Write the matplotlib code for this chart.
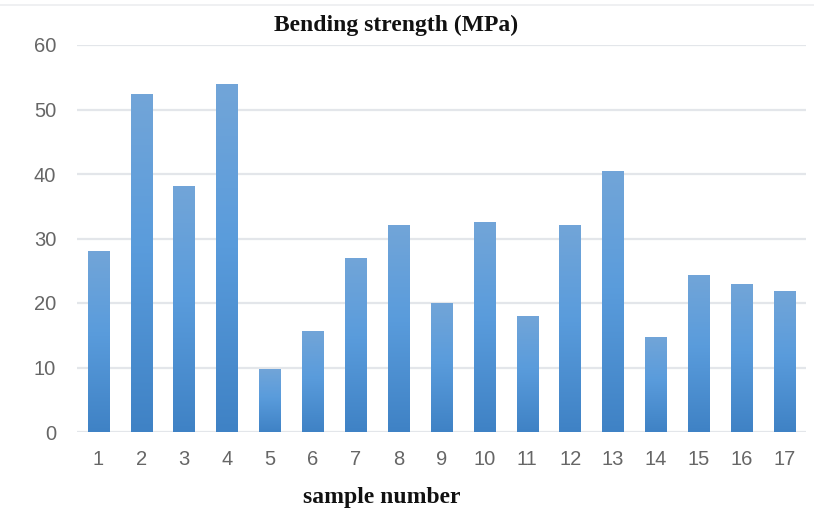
import matplotlib
matplotlib.use("Agg")
import matplotlib.pyplot as plt
import numpy as np
from matplotlib.colors import LinearSegmentedColormap

samples = [str(i) for i in range(1, 18)]
strength = [28.1, 52.4, 38.1, 54.0, 9.8, 15.6, 27.0, 32.1, 20.0, 32.5,
            18.0, 32.1, 40.5, 14.8, 24.4, 22.9, 21.8]
yticks = [0, 10, 20, 30, 40, 50, 60]

W, H = 814, 518
fig = plt.figure(figsize=(W / 100, H / 100), dpi=100)
ax = fig.add_axes([77 / W, (H - 432) / H, (806 - 77) / W, (432 - 45) / H])

x = np.arange(len(samples))
bars = ax.bar(x, strength, width=0.5, color="none", edgecolor="none", zorder=3)

cmap = LinearSegmentedColormap.from_list(
    "grad", [(0.0, "#3f82c5"), (0.55, "#5a9cdc"), (1.0, "#72a5d8")])
grad = np.linspace(0, 1, 256).reshape(-1, 1)
for b in bars:
    x0, y0 = b.get_x(), b.get_y()
    w, h = b.get_width(), b.get_height()
    im = ax.imshow(grad, cmap=cmap, origin="lower", aspect="auto",
                   extent=[x0, x0 + w, y0, y0 + h], zorder=3)
    im.set_clip_path(b)

ax.set_xlim(-0.5, len(samples) - 0.5)
ax.set_ylim(0, 60)
ax.set_yticks(yticks)
ax.set_xticks(x)
ax.set_xticklabels(samples)
ax.yaxis.grid(True, color="#e3e6ea", linewidth=1.6, zorder=0)
ax.set_axisbelow(True)
for s in ax.spines.values():
    s.set_visible(False)
ax.tick_params(axis="both", length=0, labelsize=14.5, labelcolor="#666666")
ax.tick_params(axis="x", pad=13)
ax.tick_params(axis="y", pad=15)
for lab in ax.get_xticklabels() + ax.get_yticklabels():
    lab.set_fontfamily("Liberation Sans")

fig.text(396 / W, 1 - 25 / H, "Bending strength (MPa)", ha="center", va="center",
         fontsize=17, fontweight="bold", family="Liberation Serif", color="#111111")
fig.text(382 / W, 1 - 498 / H, "sample number", ha="center", va="center",
         fontsize=17, fontweight="bold", family="Liberation Serif", color="#111111")

fig.add_artist(plt.Line2D([0, 1], [1 - 5 / H, 1 - 5 / H], color="#eceef0",
                          linewidth=1.2, transform=fig.transFigure))

fig.savefig("out.png", dpi=100)
